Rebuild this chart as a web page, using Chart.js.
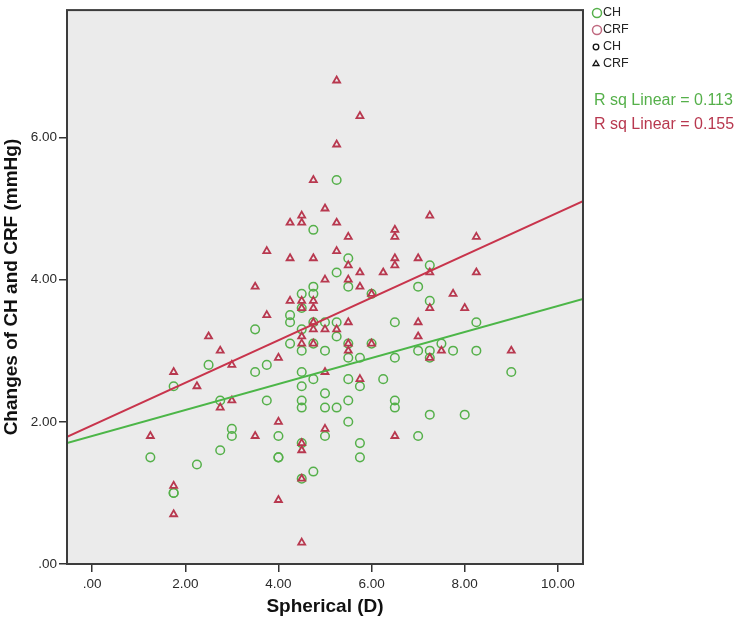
<!DOCTYPE html>
<html>
<head>
<meta charset="utf-8">
<script src="https://cdn.jsdelivr.net/npm/chart.js@4.4.1/dist/chart.umd.min.js"></script>
<style>
  html, body { margin: 0; padding: 0; background: #fff; }
  #wrap { width: 737px; height: 625px; }
</style>
</head>
<body>
<div id="wrap"><canvas id="chart" width="737" height="625"></canvas></div>
<script>
// values
const chSpherical = [
  1.25, 1.75, 1.75, 1.75, 2.25, 2.5, 2.75, 2.75, 3, 3,
  3.5, 3.5, 3.75, 3.75, 4, 4, 4, 4.25, 4.25, 4.25,
  4.5, 4.5, 4.5, 4.5, 4.5, 4.5, 4.5, 4.5, 4.5, 4.5,
  4.75, 4.75, 4.75, 4.75, 4.75, 4.75, 4.75,
  5, 5, 5, 5, 5, 5.25, 5.25, 5.25, 5.25, 5.25,
  5.5, 5.5, 5.5, 5.5, 5.5, 5.5, 5.5, 5.75, 5.75, 5.75, 5.75,
  6, 6, 6.25, 6.5, 6.5, 6.5, 6.5, 7, 7, 7,
  7.25, 7.25, 7.25, 7.25, 7.25, 7.5, 7.75, 8, 8.25, 8.25, 9
];
const chChange = [
  1.5, 2.5, 1.0, 1.0, 1.4, 2.8, 2.3, 1.6, 1.9, 1.8,
  3.3, 2.7, 2.8, 2.3, 1.8, 1.5, 1.5, 3.5, 3.4, 3.1,
  3.8, 3.6, 3.3, 3.0, 2.7, 2.5, 2.3, 2.2, 1.7, 1.2,
  4.7, 3.9, 3.8, 3.4, 3.1, 2.6, 1.3,
  3.4, 3.0, 2.4, 2.2, 1.8, 5.4, 4.1, 3.4, 3.2, 2.2,
  4.3, 3.9, 3.1, 2.9, 2.6, 2.3, 2.0, 2.9, 2.5, 1.7, 1.5,
  3.8, 3.1, 2.6, 3.4, 2.9, 2.3, 2.2, 3.9, 3.0, 1.8,
  4.2, 3.7, 3.0, 2.9, 2.1, 3.1, 3.0, 2.1, 3.4, 3.0, 2.7
];
const crfSpherical = [
  1.25, 1.75, 1.75, 1.75, 2.25, 2.5, 2.75, 2.75, 3, 3,
  3.5, 3.5, 3.75, 3.75, 4, 4, 4, 4.25, 4.25, 4.25,
  4.5, 4.5, 4.5, 4.5, 4.5, 4.5, 4.5, 4.5, 4.5, 4.5,
  4.75, 4.75, 4.75, 4.75, 4.75, 4.75, 4.75,
  5, 5, 5, 5, 5, 5.25, 5.25, 5.25, 5.25, 5.25,
  5.5, 5.5, 5.5, 5.5, 5.5, 5.5, 5.75, 5.75, 5.75, 5.75,
  6, 6, 6.25, 6.5, 6.5, 6.5, 6.5, 6.5, 7, 7, 7,
  7.25, 7.25, 7.25, 7.25, 7.5, 7.75, 8, 8.25, 8.25, 9
];
const crfChange = [
  1.8, 2.7, 1.1, 0.7, 2.5, 3.2, 3.0, 2.2, 2.8, 2.3,
  3.9, 1.8, 4.4, 3.5, 2.9, 2.0, 0.9, 4.8, 4.3, 3.7,
  4.9, 4.8, 3.7, 3.6, 3.2, 3.1, 1.7, 1.6, 1.2, 0.3,
  5.4, 4.3, 3.7, 3.6, 3.4, 3.3, 3.1,
  5.0, 4.0, 3.3, 2.7, 1.9, 6.8, 5.9, 4.8, 4.4, 3.3,
  4.6, 4.2, 4.0, 3.4, 3.1, 3.0, 6.3, 4.1, 3.9, 2.6,
  3.8, 3.1, 4.1, 4.7, 4.6, 4.3, 4.2, 1.8, 4.3, 3.4, 3.2,
  4.9, 4.1, 3.6, 2.9, 3.0, 3.8, 3.6, 4.6, 4.1, 3.0
];
// linear fits [intercept, slope] and R squared
const chFit = [1.80, 0.183];
const crfFit = [1.95, 0.299];
const chRsq = "0.113";
const crfRsq = "0.155";

const xTicks = [0, 2, 4, 6, 8, 10];
const yTicks = [0, 2, 4, 6];
const X_MIN = -0.54, X_MAX = 10.54, Y_MIN = 0, Y_MAX = 7.79;

const GREEN = "#55b04a";
const RED = "#b8384f";
const FONT = "'Liberation Sans', Arial, sans-serif";

function zip(xs, ys) {
  return xs.map((x, i) => ({ x: x, y: ys[i] }));
}
function fitLine(fit) {
  return [X_MIN, X_MAX].map(x => ({ x: x, y: fit[0] + fit[1] * x }));
}
function fmt(v) {
  const s = Number(v).toFixed(2);
  return s.startsWith("0.") ? s.slice(1) : s;
}

const frame = {
  id: "frame",
  beforeDatasetsDraw(chart) {
    const { ctx, chartArea: a } = chart;
    ctx.save();
    ctx.fillStyle = "#ebebeb";
    ctx.fillRect(a.left, a.top, a.right - a.left, a.bottom - a.top);
    ctx.restore();
  },
  afterDraw(chart) {
    const { ctx, chartArea: a } = chart;
    ctx.save();
    ctx.strokeStyle = "#3c3c3c";
    ctx.lineWidth = 2;
    ctx.strokeRect(a.left, a.top, a.right - a.left, a.bottom - a.top);

    // legend block on the right
    ctx.font = "12.5px " + FONT;
    ctx.textBaseline = "middle";
    ctx.textAlign = "left";
    const lx = 597, tx = 603;
    ctx.lineWidth = 1.5;
    ctx.strokeStyle = GREEN;
    ctx.beginPath(); ctx.arc(lx, 13, 4.5, 0, Math.PI * 2); ctx.stroke();
    ctx.strokeStyle = "#c06a80";
    ctx.beginPath(); ctx.arc(lx, 30, 4.5, 0, Math.PI * 2); ctx.stroke();
    ctx.strokeStyle = "#111";
    ctx.lineWidth = 1.3;
    ctx.beginPath(); ctx.arc(lx - 1, 47, 2.8, 0, Math.PI * 2); ctx.stroke();
    ctx.beginPath();
    ctx.moveTo(lx - 1, 60.5); ctx.lineTo(lx + 2, 65.5); ctx.lineTo(lx - 4, 65.5); ctx.closePath();
    ctx.stroke();
    ctx.fillStyle = "#222";
    ctx.fillText("CH", tx, 13);
    ctx.fillText("CRF", tx, 30);
    ctx.fillText("CH", tx, 47);
    ctx.fillText("CRF", tx, 64);

    ctx.font = "16px " + FONT;
    ctx.fillStyle = GREEN;
    ctx.fillText("R sq Linear = " + chRsq, 594, 101);
    ctx.fillStyle = RED;
    ctx.fillText("R sq Linear = " + crfRsq, 594, 125);
    ctx.restore();
  }
};

new Chart(document.getElementById("chart"), {
  type: "scatter",
  data: {
    datasets: [
      {
        type: "line",
        label: "CRF fit",
        data: fitLine(crfFit),
        borderColor: "#c8344c",
        borderWidth: 2,
        pointRadius: 0,
        fill: false,
      },
      {
        type: "line",
        label: "CH fit",
        data: fitLine(chFit),
        borderColor: "#4cb648",
        borderWidth: 2,
        pointRadius: 0,
        fill: false,
      },
      {
        label: "CRF",
        data: zip(crfSpherical, crfChange),
        pointStyle: "triangle",
        pointRadius: 4,
        borderColor: RED,
        backgroundColor: "rgba(0,0,0,0)",
        borderWidth: 1.8,
      },
      {
        label: "CH",
        data: zip(chSpherical, chChange),
        pointStyle: "circle",
        pointRadius: 4.3,
        borderColor: GREEN,
        backgroundColor: "rgba(0,0,0,0)",
        borderWidth: 1.5,
      },
    ],
  },
  options: {
    responsive: false,
    animation: false,
    layout: { padding: { left: 0, top: 4, right: 154, bottom: 0 } },
    plugins: {
      legend: { display: false },
      tooltip: { enabled: false },
    },
    scales: {
      x: {
        type: "linear",
        min: X_MIN,
        max: X_MAX,
        afterBuildTicks: s => { s.ticks = xTicks.map(v => ({ value: v })); },
        afterFit: s => { s.height = 61; },
        border: { display: false },
        grid: {
          drawOnChartArea: false,
          drawTicks: true,
          tickLength: 8,
          color: "#333",
          lineWidth: 1.5,
        },
        ticks: {
          padding: 4,
          color: "#2a2a2a",
          font: { family: FONT, size: 13.5 },
          callback: v => fmt(v),
        },
        title: {
          display: true,
          text: "Spherical (D)",
          color: "#111",
          padding: { top: 0, bottom: 7 },
          font: { family: FONT, size: 19, weight: "bold" },
        },
      },
      y: {
        type: "linear",
        min: Y_MIN,
        max: Y_MAX,
        afterBuildTicks: s => { s.ticks = yTicks.map(v => ({ value: v })); },
        afterFit: s => { s.width = 67; },
        border: { display: false },
        grid: {
          drawOnChartArea: false,
          drawTicks: true,
          tickLength: 8,
          color: "#333",
          lineWidth: 1.5,
        },
        ticks: {
          padding: 2,
          color: "#2a2a2a",
          font: { family: FONT, size: 13.5 },
          callback: v => fmt(v),
        },
        title: {
          display: true,
          text: "Changes of CH and CRF (mmHg)",
          color: "#111",
          padding: { top: 0, bottom: 0 },
          font: { family: FONT, size: 19, weight: "bold" },
        },
      },
    },
  },
  plugins: [frame],
});
</script>
</body>
</html>
